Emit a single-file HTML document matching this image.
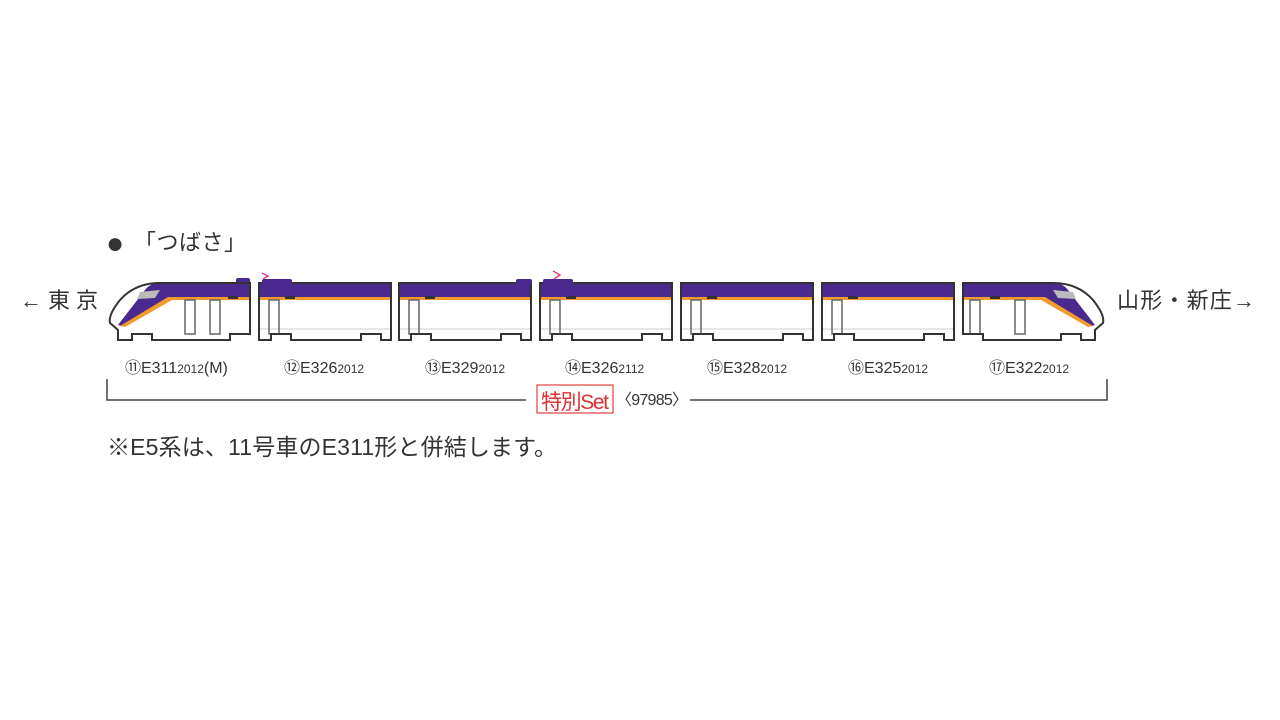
<!DOCTYPE html>
<html><head><meta charset="utf-8"><style>
body{margin:0;background:#fff;width:1280px;height:720px;overflow:hidden}
svg{display:block}
text{font-family:"Liberation Sans","Noto Sans CJK JP",sans-serif;fill:#333}
</style></head><body>
<svg width="1280" height="720" viewBox="0 0 1280 720">
<defs>
<g id="mid">
<path d="M0,0 H132 V57 H122 V51 H102 V57 H32 V51 H12 V57 H0 Z" fill="#fff"/>
<rect x="0" y="0" width="132" height="14" fill="#4a2a8e"/>
<rect x="0" y="14" width="132" height="3" fill="#f29a2e"/>
<line x1="0" y1="46" x2="132" y2="46" stroke="#ccc" stroke-width="1"/>
<rect x="10" y="17" width="10" height="34" fill="none" stroke="#666" stroke-width="1.5"/>
<rect x="26" y="13" width="10" height="3" fill="#333"/>
<path d="M0,0 H132 V57 H122 V51 H102 V57 H32 V51 H12 V57 H0 Z" fill="none" stroke="#333" stroke-width="2"/>
</g>
</defs>
<text x="106" y="253" font-size="30">●</text>
<text x="134" y="250" font-size="22" textLength="112">「つばさ」</text>
<text x="20" y="308" font-size="22" textLength="78">←東京</text>
<text x="1117" y="308" font-size="22" textLength="138">山形・新庄→</text>

<g>
<path d="M250,283 H160 Q135,283 120,300 Q108,315 110,323 L118,330 V340 H132 V334 H152 V340 H230 V334 H250 Z" fill="#fff"/>
<path d="M250,283 H160 Q150,283 145,290 L118,325 L122,326 L170,298 H250 Z" fill="#4a2a8e"/>
<path d="M250,297 H168 L120,326 L125,327 L172,300 H250 Z" fill="#f29a2e"/>
<path d="M140,292 L160,290 L155,298 L137,299 Z" fill="#bbb"/>
<rect x="236" y="278" width="14" height="6" fill="#4a2a8e" rx="2"/>
<rect x="185" y="300" width="10" height="34" fill="none" stroke="#666" stroke-width="1.5"/>
<rect x="210" y="300" width="10" height="34" fill="none" stroke="#666" stroke-width="1.5"/>
<rect x="228" y="296" width="10" height="3" fill="#333"/>
<path d="M250,283 H160 Q135,283 120,300 Q108,315 110,323 L118,330 V340 H132 V334 H152 V340 H230 V334 H250 Z" fill="none" stroke="#333" stroke-width="2"/>
</g>
<use href="#mid" x="259" y="283"/>
<rect x="262" y="279" width="30" height="5" fill="#4a2a8e" rx="2"/>
<path d="M262,273 L268,276 L263,279" fill="none" stroke="#e0408a" stroke-width="1.5"/>
<use href="#mid" x="399" y="283"/>
<rect x="516" y="279" width="16" height="5" fill="#4a2a8e" rx="2"/>
<use href="#mid" x="540" y="283"/>
<rect x="543" y="279" width="30" height="5" fill="#4a2a8e" rx="2"/>
<path d="M553,271 L560,275 L554,279" fill="none" stroke="#e0408a" stroke-width="1.5"/>
<use href="#mid" x="681" y="283"/>
<use href="#mid" x="822" y="283"/>
<g transform="translate(2070,0) scale(-1,1)">
<path d="M1107,283 H1017 Q992,283 977,300 Q965,315 967,323 L975,330 V340 H989 V334 H1009 V340 H1087 V334 H1107 Z" fill="#fff"/>
<path d="M1107,283 H1017 Q1007,283 1002,290 L975,325 L979,326 L1027,298 H1107 Z" fill="#4a2a8e"/>
<path d="M1107,297 H1025 L977,326 L982,327 L1029,300 H1107 Z" fill="#f29a2e"/>
<path d="M997,292 L1017,290 L1012,298 L994,299 Z" fill="#bbb"/>
<rect x="1045" y="300" width="10" height="34" fill="none" stroke="#666" stroke-width="1.5"/>
<rect x="1090" y="300" width="10" height="34" fill="none" stroke="#666" stroke-width="1.5"/>
<rect x="1070" y="296" width="10" height="3" fill="#333"/>
<path d="M1107,283 H1017 Q992,283 977,300 Q965,315 967,323 L975,330 V340 H989 V334 H1009 V340 H1087 V334 H1107 Z" fill="none" stroke="#333" stroke-width="2"/>
</g>

<g font-size="16">
<text x="125" y="373">⑪E311<tspan font-size="12">2012</tspan>(M)</text>
<text x="284" y="373">⑫E326<tspan font-size="12">2012</tspan></text>
<text x="425" y="373">⑬E329<tspan font-size="12">2012</tspan></text>
<text x="565" y="373">⑭E326<tspan font-size="12">2112</tspan></text>
<text x="707" y="373">⑮E328<tspan font-size="12">2012</tspan></text>
<text x="848" y="373">⑯E325<tspan font-size="12">2012</tspan></text>
<text x="989" y="373">⑰E322<tspan font-size="12">2012</tspan></text>
</g>
<path d="M107,379 V400 H526 M690,400 H1107 V379" fill="none" stroke="#444" stroke-width="1.5"/>
<rect x="537" y="385" width="76" height="28" fill="#fff" stroke="#e34040" stroke-width="1.2"/>
<text x="541" y="409" font-size="21" style="fill:#e03030" textLength="68">特別Set</text>
<text x="616" y="405" font-size="16" textLength="72">〈97985〉</text>
<text x="107" y="455" font-size="23" textLength="450">※E5系は、11号車のE311形と併結します。</text>
</svg>
</body></html>
